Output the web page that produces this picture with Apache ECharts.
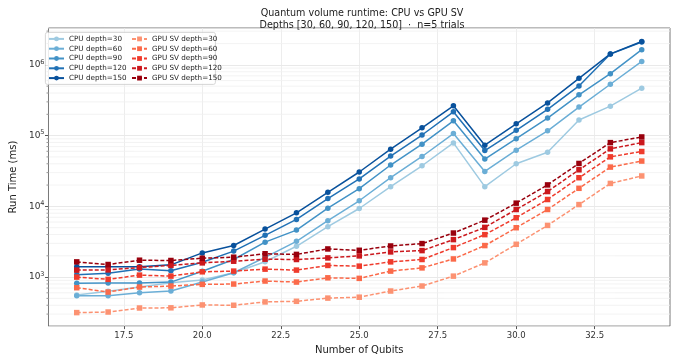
<!DOCTYPE html>
<html>
<head>
<meta charset="utf-8">
<script src="https://cdn.jsdelivr.net/npm/echarts@6/dist/echarts.min.js"></script>
<style>
  html, body { margin: 0; padding: 0; background: #fff; }
  #chart { width: 681px; height: 360px; }
</style>
</head>
<body>
<div id="chart"></div>
<script>
// qubit counts on the x axis
const qubits = [16, 17, 18, 19, 20, 21, 22, 23, 24, 25, 26, 27, 28, 29, 30, 31, 32, 33, 34];
const depths = [30, 60, 90, 120, 150];

// CPU run time (ms), one list per depth
const cpuD30 = [558, 629, 724, 832, 908, 1154, 1650, 2728, 5160, 9330, 19000, 37500, 78900, 19000, 40000, 58300, 166000, 261000, 468000];
const cpuD60 = [546, 546, 603, 636, 851, 1154, 1900, 3204, 6270, 12000, 25400, 50700, 107000, 31200, 62200, 117000, 253000, 532000, 1120000];
const cpuD90 = [817, 824, 824, 850, 1213, 1774, 3120, 4620, 9420, 17800, 38400, 75700, 162000, 46600, 90600, 177000, 377000, 752000, 1640000];
const cpuD120 = [1079, 1138, 1300, 1228, 1626, 2330, 3891, 6530, 12900, 24400, 51300, 102000, 217000, 61500, 119000, 235000, 504000, 1420000, 2110000];
const cpuD150 = [1396, 1396, 1400, 1490, 2198, 2795, 4775, 8110, 15800, 30600, 64300, 129000, 264000, 73300, 147000, 290000, 646000, 1430000, 2140000];

// GPU state-vector run time (ms), one list per depth
const gpuD30 = [315, 321, 366, 368, 404, 400, 446, 455, 505, 520, 636, 748, 1032, 1589, 2910, 5380, 10600, 21100, 26900];
const gpuD60 = [708, 615, 724, 748, 790, 798, 880, 851, 977, 960, 1216, 1350, 1807, 2790, 4990, 9030, 18000, 35900, 43700];
const gpuD90 = [1000, 929, 1067, 1033, 1188, 1216, 1296, 1256, 1462, 1429, 1642, 1774, 2614, 3984, 6900, 12500, 25400, 50100, 59600];
const gpuD120 = [1256, 1265, 1364, 1463, 1589, 1678, 1792, 1774, 1868, 1995, 2270, 2370, 3388, 5042, 9030, 16200, 32900, 65000, 79600];
const gpuD150 = [1641, 1507, 1733, 1717, 1849, 1911, 2138, 2094, 2500, 2393, 2754, 2978, 4198, 6383, 11100, 20100, 40400, 79600, 95700];

const xTicks = [17.5, 20.0, 22.5, 25.0, 27.5, 30.0, 32.5];

const cpuColors = ["#9ecae1", "#6baed6", "#4292c6", "#2171b5", "#08519c"];
const gpuColors = ["#fc9272", "#fb6a4a", "#ef3b2c", "#cb181d", "#99000d"];

const cpuData = [cpuD30, cpuD60, cpuD90, cpuD120, cpuD150];
const gpuData = [gpuD30, gpuD60, gpuD90, gpuD120, gpuD150];

const yMin = 203, yMax = 3.32e6;

// minor grid lines at 2..9 x 10^n
const minorVals = [];
for (let e = 2; e <= 6; e++) {
  for (let k = 2; k <= 9; k++) {
    const v = k * Math.pow(10, e);
    if (v > yMin && v < yMax) minorVals.push(v);
  }
}

const font = "DejaVu Sans";

function pairs(vals) {
  return qubits.map((q, i) => [q, vals[i]]);
}

const series = [];
// light minor grid + small minor ticks on the left edge
series.push({
  type: "custom",
  silent: true,
  z: 1,
  data: minorVals.map((v) => [15.1, v]),
  renderItem: function (params, api) {
    const p = api.coord([api.value(0), api.value(1)]);
    const right = params.coordSys.x + params.coordSys.width;
    return {
      type: "group",
      children: [
        {
          type: "line",
          shape: { x1: p[0], y1: p[1], x2: right, y2: p[1] },
          style: { stroke: "#f0f0f0", lineWidth: 0.8 },
        },
        {
          type: "line",
          shape: { x1: p[0] - 2, y1: p[1], x2: p[0], y2: p[1] },
          style: { stroke: "#555", lineWidth: 0.6 },
        },
      ],
    };
  },
});
depths.forEach((d, i) => {
  series.push({
    name: "CPU depth=" + d,
    type: "line",
    data: pairs(cpuData[i]),
    symbol: "circle",
    symbolSize: 5.5,
    color: cpuColors[i],
    lineStyle: { width: 1.5, color: cpuColors[i] },
    itemStyle: { color: cpuColors[i] },
    z: 3,
  });
});
depths.forEach((d, i) => {
  series.push({
    name: "GPU SV depth=" + d,
    type: "line",
    data: pairs(gpuData[i]),
    symbol: "rect",
    symbolSize: 5.5,
    color: gpuColors[i],
    lineStyle: { width: 1.5, type: [4, 2], color: gpuColors[i] },
    itemStyle: { color: gpuColors[i] },
    z: 4,
  });
});

const legendBase = {
  orient: "vertical",
  top: 34,
  itemWidth: 15,
  itemHeight: 6,
  itemGap: 0,
  padding: 0,
  textStyle: { fontFamily: font, fontSize: 7.2, color: "#222", lineHeight: 9.8 },
};

const myChart = echarts.init(document.getElementById("chart"), null, { renderer: "canvas" });
const option = {
  animation: false,
  backgroundColor: "#fff",
  title: {
    text: "Quantum volume runtime: CPU vs GPU SV\nDepths [30, 60, 90, 120, 150]  ·  n=5 trials",
    left: 357,
    textAlign: "center",
    top: 2,
    textStyle: { fontFamily: font, fontSize: 9.6, fontWeight: "normal", color: "#222", lineHeight: 12 },
  },
  graphic: [
    {
      type: "rect",
      left: 45,
      top: 32,
      shape: { width: 170, height: 52, r: 2 },
      style: { fill: "rgba(255,255,255,0.85)", stroke: "#cccccc", lineWidth: 0.8 },
      z: 10,
    },
  ],
  legend: [
    Object.assign({}, legendBase, {
      left: 48,
      data: depths.map((d) => "CPU depth=" + d),
      z: 11,
    }),
    Object.assign({}, legendBase, {
      left: 131,
      data: depths.map((d) => "GPU SV depth=" + d),
      z: 11,
    }),
  ],
  grid: {
    left: 42,
    right: 11,
    top: 28,
    bottom: 30,
    show: true,
    borderColor: "#555",
    borderWidth: 0.8,
    containLabel: false,
  },
  xAxis: {
    type: "value",
    min: 15.1,
    max: 34.9,
    name: "Number of Qubits",
    nameLocation: "middle",
    nameGap: 16,
    nameTextStyle: { fontFamily: font, fontSize: 10, color: "#222" },
    axisLine: { show: false },
    axisTick: { show: true, length: 3, lineStyle: { color: "#555" }, customValues: xTicks },
    axisLabel: {
      customValues: xTicks,
      fontFamily: font,
      fontSize: 8.5,
      color: "#333",
      margin: 5,
      formatter: (v) => Number(v).toFixed(1),
    },
    splitLine: { show: true, lineStyle: { color: "#e8e8e8", width: 0.8 } },
  },
  yAxis: {
    type: "log",
    logBase: 10,
    min: yMin,
    max: yMax,
    name: "Run Time (ms)",
    nameLocation: "middle",
    nameGap: 27,
    nameTextStyle: { fontFamily: font, fontSize: 10, color: "#222" },
    axisLine: { show: false },
    axisTick: { show: true, length: 3.5, lineStyle: { color: "#555" } },
    axisLabel: {
      fontFamily: font,
      color: "#333",
      margin: 4,
      showMinLabel: false,
      showMaxLabel: false,
      formatter: (v) => {
        const e = Math.log10(v);
        if (Math.abs(e - Math.round(e)) > 1e-6) return "";
        return "{b|10}{s|" + Math.round(e) + "}";
      },
      rich: {
        b: { fontFamily: font, fontSize: 9, color: "#333" },
        s: { fontFamily: font, fontSize: 6.5, color: "#333", padding: [0, 0, 6, 0] },
      },
    },
    splitLine: { show: true, lineStyle: { color: "#e3e3e3", width: 0.8 } },
  },
  series: series,
};
myChart.setOption(option);
</script>
</body>
</html>
